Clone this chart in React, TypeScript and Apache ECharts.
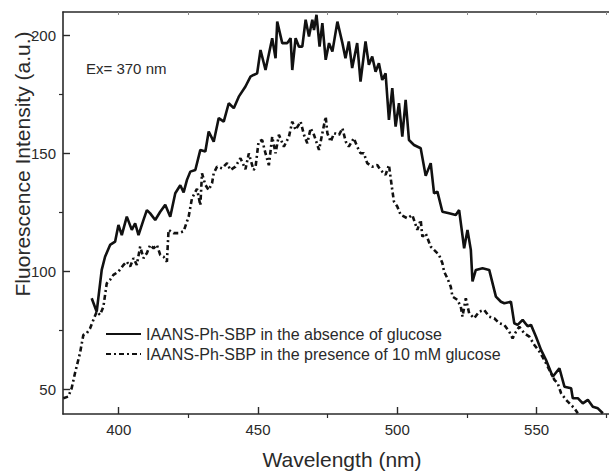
import React, { useEffect, useRef } from "react";
import * as echarts from "echarts";

// Solid curve: IAANS-Ph-SBP in the absence of glucose
const absenceWavelength = [
  390.3, 392.1, 393.9, 395.1, 396.9, 398.7, 399.9, 401.1, 402.9, 404.7, 405.9, 407.1, 408.9, 410.1,
  411.3, 413.1, 414.9, 416.7, 418.5, 420.3, 422.1, 423.3, 424.5, 425.7, 427.5, 429.3, 431.1, 432.3,
  434.1, 435.9, 437.7, 439.5, 441.3, 443.1, 445.5, 447.3, 448.4, 449.7, 450.9, 452.7, 455.1, 456.3,
  456.9, 458.7, 460.5, 461.7, 462.3, 463.5, 464.7, 465.9, 467.1, 468.3, 469.5, 470.1, 471.0, 472.1,
  473.1, 474.3, 475.5, 476.7, 478.5, 480.3, 481.4, 482.6, 483.8, 485.6, 486.8, 488.6, 489.8, 491.0,
  492.2, 493.4, 494.6, 495.8, 497.0, 498.2, 499.4, 500.6, 501.8, 503.0, 504.2, 506.0, 508.4, 510.2,
  512.0, 513.2, 514.4, 516.2, 518.6, 521.0, 522.2, 524.0, 525.2, 526.4, 527.0, 528.2, 530.6, 533.0,
  535.4, 537.2, 538.4, 540.8, 542.0, 543.2, 545.0, 546.8, 548.0, 549.8, 551.6, 553.4, 555.8, 558.2,
  560.0, 562.4, 563.0, 564.8, 566.6, 568.4, 570.2, 572.0, 573.8,
];
const absenceIntensity = [
  88.6, 82.9, 100.6, 106.2, 111.2, 112.6, 119.7, 115.4, 123.2, 117.6, 120.4, 115.4, 121.8, 126,
  124.6, 121.8, 125.3, 128.2, 123.2, 133.1, 136.5, 133.5, 138.8, 142.3, 143, 151.5, 150.8, 159.3,
  155, 165, 163.5, 171.3, 169.2, 174.1, 178.4, 182.6, 183.3, 184, 193.9, 185.4, 198.9, 190.4,
  205.9, 196.8, 196.8, 198.9, 185.4, 198.9, 195.3, 195.3, 206.7, 199.6, 206.7, 202.4, 208.8, 195.3,
  205.3, 189.7, 196.8, 193.2, 205.9, 196.8, 190.4, 197.5, 186.2, 196.8, 180.5, 197.5, 187.6, 191.1,
  184.7, 188.3, 181.2, 184, 164.2, 177.7, 161.4, 171.3, 157.1, 172.7, 155.7, 153.6, 152.2, 140.5,
  145.9, 133.1, 133.8, 125.3, 124.6, 123.9, 126, 109.8, 117.6, 109.1, 95.7, 100.6, 101.3, 100.6,
  89.3, 87.1, 86.5, 87.1, 78, 77.3, 79.4, 76.7, 77.3, 72.3, 66.7, 62.4, 55.3, 58.9,
  51.1, 50.4, 46.2, 46.2, 44, 45.5, 42.6, 41.9, 39.8,
];

// Dash-dot curve: IAANS-Ph-SBP in the presence of 10 mM glucose
const presenceWavelength = [
  380.1, 381.9, 383.1, 384.3, 386.1, 387.3, 388.5, 389.7, 390.9, 392.1, 393.3, 394.5, 395.7, 396.9,
  398.1, 399.9, 401.7, 402.9, 404.1, 405.3, 406.5, 407.7, 408.9, 410.1, 411.3, 412.5, 413.7, 414.9,
  416.1, 417.3, 417.9, 419.7, 421.5, 423.3, 425.1, 426.3, 428.1, 429.3, 429.9, 431.1, 432.3, 433.5,
  434.1, 435.3, 437.1, 438.9, 440.1, 441.9, 443.7, 445.5, 446.7, 448.4, 449.1, 450.2, 451.5, 452.7,
  453.9, 455.1, 456.3, 457.5, 459.3, 461.1, 462.3, 463.5, 465.3, 466.5, 467.7, 468.9, 470.1, 471.9,
  473.1, 474.3, 474.9, 476.1, 477.3, 479.1, 480.3, 481.5, 482.6, 484.4, 485.6, 486.8, 488.0, 489.2,
  491.0, 492.8, 494.0, 495.8, 497.0, 498.2, 498.8, 500.0, 501.2, 503.6, 505.4, 507.2, 508.4, 509.0,
  510.2, 512.0, 513.2, 515.0, 516.2, 516.8, 518.0, 519.2, 519.8, 521.6, 522.8, 523.4, 524.6, 525.8,
  527.6, 529.4, 531.2, 533.0, 534.8, 536.6, 538.4, 540.2, 541.4, 542.6, 543.8, 545.6, 547.4, 549.2,
  551.0, 552.8, 554.6, 556.4, 557.6, 558.8, 560.6, 562.4, 563.6, 564.8,
];
const presenceIntensity = [
  46.2, 46.9, 50.4, 56.8, 65.3, 73, 73.7, 75.8, 79.4, 82.9, 81.5, 85, 94.9, 96.4,
  98.5, 99.9, 102.7, 104.1, 102, 105.6, 102.7, 110.5, 105.6, 107.7, 111.2, 109.8, 111.2, 107,
  106.2, 104.1, 117.6, 116.2, 116.2, 117, 123.2, 131, 135, 128, 141.6, 136.7, 134.5, 137.4,
  141.6, 144.4, 143.7, 145.9, 143, 144.4, 148, 143.3, 150, 143, 144, 155, 155.7, 150,
  145, 157.1, 150.1, 157.9, 152.9, 157.1, 163.5, 160, 163.5, 157.9, 154.3, 160.7, 157.9, 151.5,
  158.6, 165.6, 158.6, 155, 158.6, 157.9, 160.7, 155, 152.9, 156.5, 152.9, 150.1, 150.1, 145.9,
  144.4, 145.1, 143, 140.9, 145.1, 134.5, 129.6, 127.5, 124, 122.5, 123.9, 117.6, 121.8, 114.7,
  116.1, 110.5, 109.1, 107, 103.4, 99.9, 97, 93.5, 89.3, 87.9, 85, 80.8, 88.6, 82.2,
  80.1, 82.9, 83.6, 80.8, 80.1, 78, 77.3, 74.4, 71.6, 74.4, 76.5, 73.7, 72.3, 68.8,
  66, 62.4, 58.2, 54, 52.5, 48.3, 45.5, 43.3, 41.9, 39.8,
];

const seriesNames = [
  "IAANS-Ph-SBP in the absence of glucose",
  "IAANS-Ph-SBP in the presence of 10 mM glucose",
];
const xMajorTicks = [400, 450, 500, 550];
const xMinorTicks = [425, 475, 525, 575];
const xTopTicks = [400, 425, 450, 475, 500, 525, 550, 575];
const yMajorTicks = [50, 100, 150, 200];
const yMinorTicks = [75, 125, 175];

const FONT = "'Liberation Sans', Arial, Helvetica, sans-serif";
const INK = "#2a2a2a";

export default function App() {
  const ref = useRef<HTMLDivElement>(null);
  useEffect(() => {
    if (!ref.current) return;
    const chart = echarts.init(ref.current, undefined, { renderer: "svg" });
    const absence = absenceWavelength.map((w, i) => [w, absenceIntensity[i]]);
    const presence = presenceWavelength.map((w, i) => [w, presenceIntensity[i]]);
    const axisLine = { show: true, lineStyle: { color: INK, width: 1.6 } };
    chart.setOption({
      animation: false,
      backgroundColor: "#ffffff",
      textStyle: { fontFamily: FONT },
      grid: { left: 63, top: 12, right: 0, bottom: 58, containLabel: false },
      xAxis: [
        {
          type: "value",
          min: 380,
          max: 576,
          position: "bottom",
          axisLine,
          axisTick: { show: true, inside: true, length: 7, customValues: xMajorTicks, lineStyle: { color: INK, width: 1.4 } },
          axisLabel: { customValues: xMajorTicks, margin: 8, fontSize: 15, color: INK, fontFamily: FONT },
          splitLine: { show: false },
        },
        {
          type: "value",
          min: 380,
          max: 576,
          position: "bottom",
          axisLine: { show: false },
          axisTick: { show: true, inside: false, length: 4, customValues: xMinorTicks, lineStyle: { color: INK, width: 1.2 } },
          axisLabel: { show: false },
          splitLine: { show: false },
        },
        {
          type: "value",
          min: 380,
          max: 576,
          position: "top",
          axisLine,
          axisTick: { show: true, inside: true, length: 3, customValues: xTopTicks, lineStyle: { color: "#888", width: 1 } },
          axisLabel: { show: false },
          splitLine: { show: false },
        },
      ],
      yAxis: [
        {
          type: "value",
          min: 39.5,
          max: 210,
          position: "left",
          axisLine,
          axisTick: { show: true, inside: true, length: 7, customValues: yMajorTicks, lineStyle: { color: INK, width: 1.4 } },
          axisLabel: { customValues: yMajorTicks, margin: 7, fontSize: 15, color: INK, fontFamily: FONT },
          splitLine: { show: false },
        },
        {
          type: "value",
          min: 39.5,
          max: 210,
          position: "left",
          axisLine: { show: false },
          axisTick: { show: true, inside: false, length: 4, customValues: yMinorTicks, lineStyle: { color: INK, width: 1.2 } },
          axisLabel: { show: false },
          splitLine: { show: false },
        },
      ],
      legend: {
        orient: "vertical",
        left: 105,
        top: 326,
        itemWidth: 35,
        itemHeight: 14,
        itemGap: 4,
        padding: 0,
        itemStyle: { color: "rgba(0,0,0,0)", borderWidth: 0, opacity: 0 },
        textStyle: { fontSize: 16, color: INK, fontFamily: FONT, lineHeight: 16 },
        data: seriesNames,
      },
      graphic: [
        {
          type: "text",
          left: 86,
          top: 61,
          style: { text: "Ex= 370 nm", fontSize: 15, fill: INK, fontFamily: FONT },
        },
        {
          type: "text",
          x: 22,
          y: 164,
          rotation: Math.PI / 2,
          style: {
            text: "Fluorescence Intensity (a.u.)",
            fontSize: 21,
            fill: INK,
            fontFamily: FONT,
            align: "center",
            verticalAlign: "middle",
          },
        },
        {
          type: "text",
          x: 342,
          y: 459,
          style: {
            text: "Wavelength (nm)",
            fontSize: 21,
            fill: INK,
            fontFamily: FONT,
            align: "center",
            verticalAlign: "middle",
          },
        },
      ],
      series: [
        {
          name: seriesNames[0],
          type: "line",
          data: absence,
          symbol: "none",
          showSymbol: false,
          lineStyle: { color: "#111", width: 2.6, type: "solid" },
          itemStyle: { color: "#111" },
        },
        {
          name: seriesNames[1],
          type: "line",
          data: presence,
          symbol: "none",
          showSymbol: false,
          lineStyle: { color: "#111", width: 2.6, type: [5, 3, 2, 3] },
          itemStyle: { color: "#111" },
        },
      ],
    });
    return () => chart.dispose();
  }, []);
  return (
    <div
      ref={ref}
      style={{ position: "absolute", left: 0, top: 0, width: 609, height: 472, background: "#fff" }}
    />
  );
}
